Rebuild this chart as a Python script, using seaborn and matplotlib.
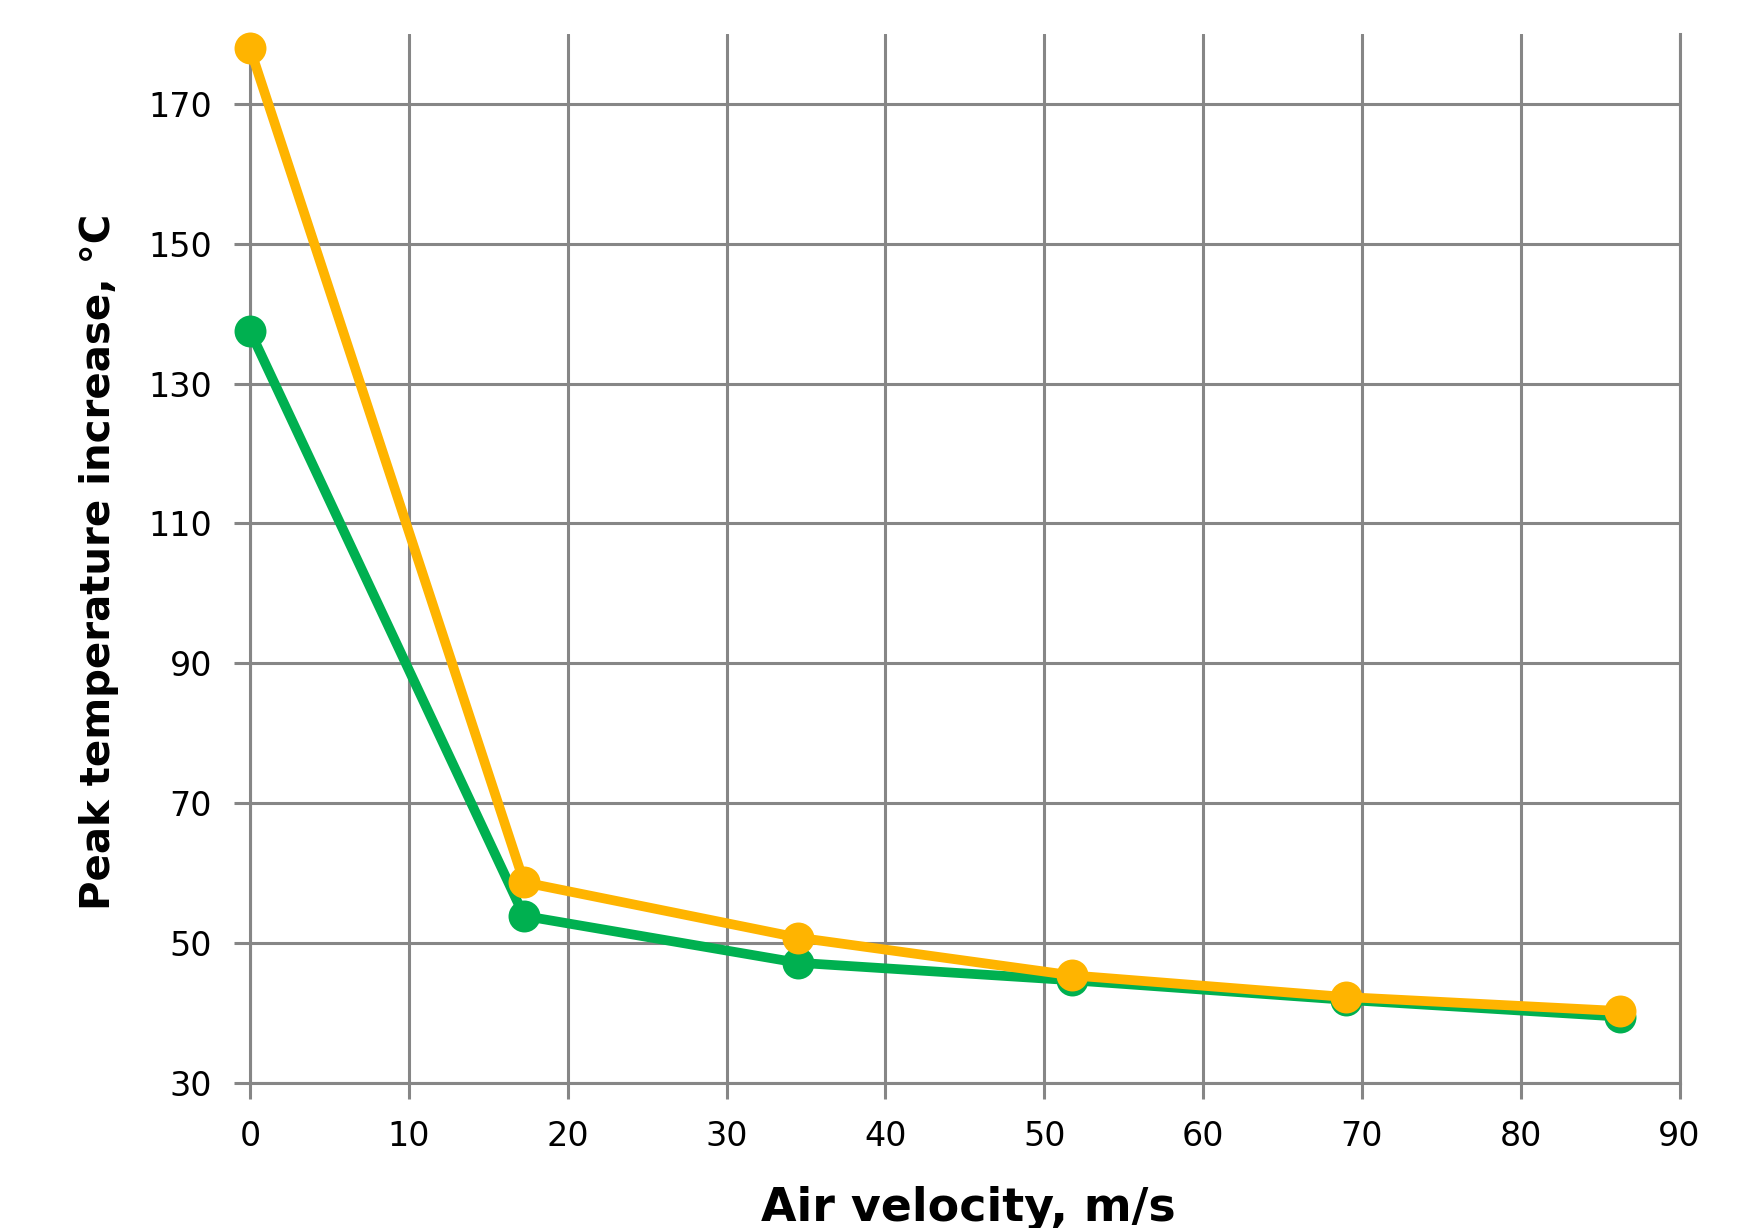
import pandas as pd
import matplotlib
matplotlib.use("Agg")
import matplotlib.pyplot as plt
import seaborn as sns

# values
air_velocity = [0, 17.25, 34.5, 51.75, 69, 86.25]
peak_rise_green = [137.5, 53.9, 47.2, 44.7, 41.9, 39.5]
peak_rise_orange = [177.9, 58.7, 50.8, 45.4, 42.3, 40.3]
x_ticks = list(range(0, 91, 10))
y_ticks = list(range(30, 171, 20))

df = pd.DataFrame({
    "velocity": air_velocity * 2,
    "rise": peak_rise_green + peak_rise_orange,
    "series": ["green"] * len(air_velocity) + ["orange"] * len(air_velocity),
})

sns.set_theme(style="white")
plt.rcParams["font.family"] = ["DejaVu Sans"]

grid_col = "#868686"

fig = plt.figure(figsize=(17.55, 12.28), dpi=100)
ax = fig.add_axes([0.1425, 0.118, 0.8145, 0.8545])

sns.lineplot(data=df, x="velocity", y="rise", hue="series",
             palette={"green": "#00B050", "orange": "#FFB400"},
             marker="o", markersize=23, markeredgewidth=0, linewidth=7,
             sort=False, legend=False, ax=ax, clip_on=False, zorder=5)

ax.set_xlim(0, 90)
ax.set_ylim(30, 180)
ax.set_xticks(x_ticks)
ax.set_yticks(y_ticks)
ax.set_axisbelow(True)
ax.grid(True, color=grid_col, linewidth=2.2)
ax.spines["top"].set_visible(False)
for side in ["left", "bottom", "right"]:
    ax.spines[side].set_color(grid_col)
    ax.spines[side].set_linewidth(2.2)
ax.spines["right"].set_bounds(30, 180)
ax.tick_params(axis="both", direction="out", length=11.5, width=2.2,
               color=grid_col, labelsize=24, labelcolor="black",
               bottom=True, left=True)
ax.tick_params(axis="x", pad=15)
ax.tick_params(axis="y", pad=16)

ax.set_xlabel("Air velocity, m/s", fontsize=33, fontweight="bold", color="black")
ax.xaxis.set_label_coords(0.552, 0.0155, transform=fig.transFigure)
ax.xaxis.label.set_va("center")
ax.set_ylabel("Peak temperature increase, °C", fontsize=29, fontweight="bold", color="black")
ax.yaxis.set_label_coords(0.0564, 0.5423, transform=fig.transFigure)
ax.yaxis.label.set_va("center")
ax.yaxis.label.set_ha("center")

fig.savefig("out.png", dpi=100)
